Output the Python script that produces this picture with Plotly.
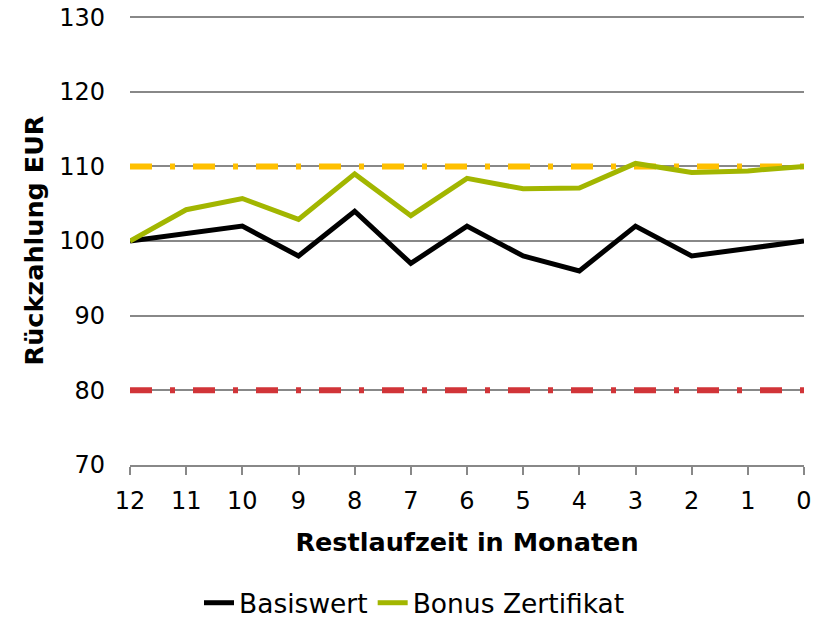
import plotly.graph_objects as go

months = [12, 11, 10, 9, 8, 7, 6, 5, 4, 3, 2, 1, 0]
basiswert = [100, 101, 102, 98, 104, 97, 102, 98, 96, 102, 98, 99, 100]
bonus = [100, 104.2, 105.7, 102.9, 109, 103.4, 108.4, 107, 107.1, 110.4, 109.2, 109.4, 110]
bonus_level = [110] * 13
barriere = [80] * 13

FONT = "Verdana, DejaVu Sans, sans-serif"
DASH = "22px,18px,5px,18px"

fig = go.Figure()
fig.add_trace(go.Scatter(x=months, y=bonus_level, mode="lines", showlegend=False,
                         line=dict(color="#FFC000", width=6, dash=DASH), hoverinfo="skip"))
fig.add_trace(go.Scatter(x=months, y=barriere, mode="lines", showlegend=False,
                         line=dict(color="#D13438", width=6, dash=DASH), hoverinfo="skip"))
fig.add_trace(go.Scatter(x=months, y=basiswert, mode="lines", name="Basiswert",
                         line=dict(color="#000000", width=5)))
fig.add_trace(go.Scatter(x=months, y=bonus, mode="lines", name="Bonus Zertifikat",
                         line=dict(color="#A2B600", width=5)))

fig.update_layout(
    template="none",
    width=829, height=627,
    margin=dict(l=130, r=25, t=16, b=162),
    paper_bgcolor="white", plot_bgcolor="white",
    font=dict(family=FONT, size=24, color="black"),
    legend=dict(orientation="h", xref="container", yref="container",
                x=0.5, xanchor="center", y=-0.014, yanchor="bottom",
                font=dict(size=26.5), tracegroupgap=0, borderwidth=0),
    xaxis=dict(range=[12, 0], tickmode="array", tickvals=months, ticktext=[str(m) for m in months],
               showgrid=False, showline=True, linecolor="#888888", linewidth=1.5,
               ticks="outside", tickcolor="#888888", ticklen=8, tickwidth=1.5,
               ticklabelstandoff=5, automargin=False,
               title=dict(text="<b>Restlaufzeit in Monaten</b>", font=dict(size=25.5), standoff=20),
               zeroline=False),
    yaxis=dict(range=[70, 130.15], tickvals=[70, 80, 90, 100, 110, 120, 130],
               showgrid=True, gridcolor="#888888", gridwidth=1.5, zeroline=False,
               showline=False, ticks="", ticklabelstandoff=24, automargin=False,
               title=dict(text="<b>Rückzahlung EUR</b>", font=dict(size=25.5), standoff=8)),
)

fig.write_html("out.html", config={"displayModeBar": False},
               post_script="document.body.style.margin='0';document.body.style.overflow='hidden';")
